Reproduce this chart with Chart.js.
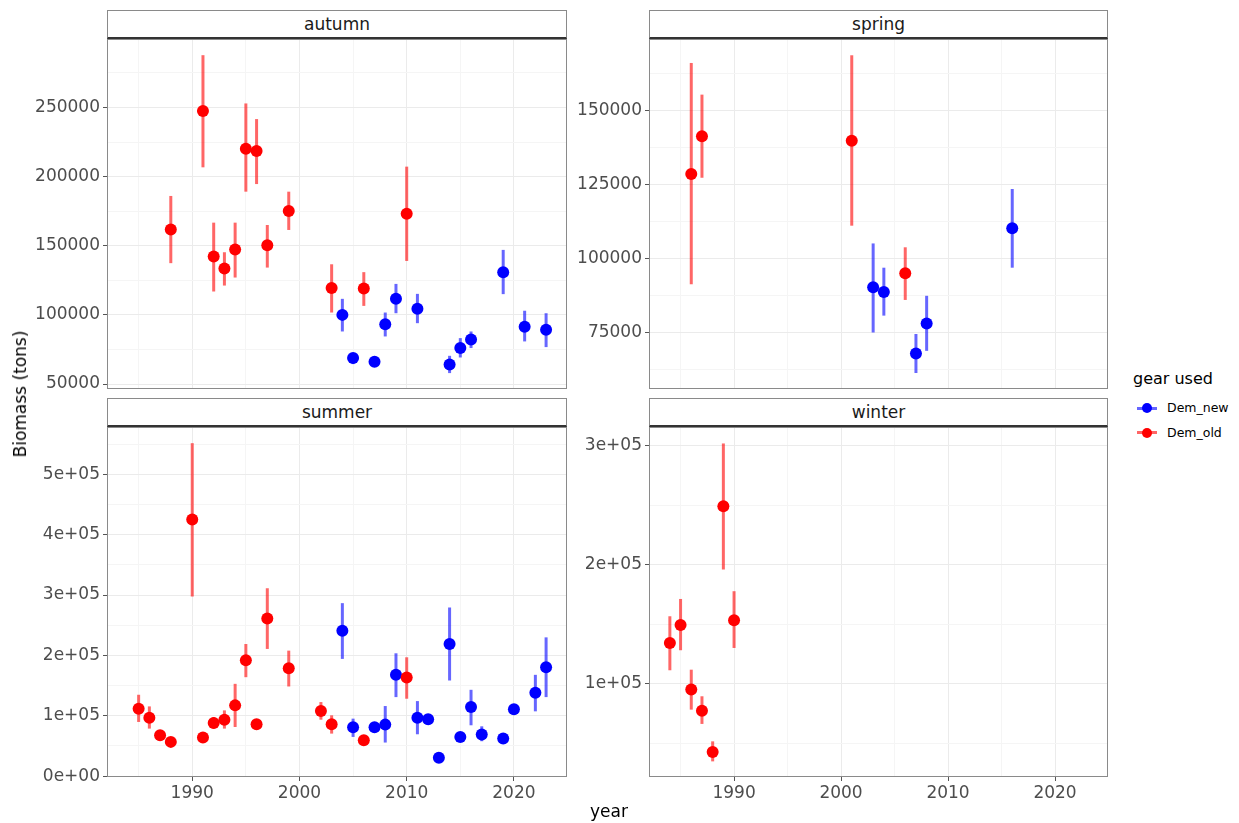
<!DOCTYPE html>
<html>
<head>
<meta charset="utf-8">
<script src="https://cdn.jsdelivr.net/npm/chart.js@4.4.0/dist/chart.umd.min.js"></script>
<style>
  body { margin: 0; background: #fff; width: 1239px; height: 823px; position: relative; overflow: hidden; font-family: "DejaVu Sans", sans-serif; }
  canvas { position: absolute; }
  .strip { position: absolute; box-sizing: border-box; border: 1px solid #8a8a8a; border-bottom: 2px solid #333; background: #fff; text-align: center; font-size: 17px; color: #1a1a1a; line-height: 27px; }
  .frame { position: absolute; box-sizing: border-box; border: 1px solid #8a8a8a; pointer-events: none; }
  .txt { position: absolute; white-space: nowrap; }
</style>
</head>
<body>
<script>
// ---- data ----
const xTicks = [1990, 2000, 2010, 2020];
const xLabels = ['1990', '2000', '2010', '2020'];

const autumnYears   = [1988, 1991, 1992, 1993, 1994, 1995, 1996, 1997, 1999, 2003, 2004, 2005, 2006, 2007, 2008, 2009, 2010, 2011, 2014, 2015, 2016, 2019, 2021, 2023];
const autumnGear    = ['old','old','old','old','old','old','old','old','old','old','new','new','old','new','new','new','old','new','new','new','new','new','new','new'];
const autumnBiomass = [161700, 247400, 142200, 133500, 147200, 220200, 218500, 150400, 175100, 119500, 100000, 68800, 119100, 66100, 93300, 111600, 173200, 104400, 64200, 76000, 82200, 130900, 91400, 89200];
const autumnLow     = [137400, 206700, 116900, 121200, 127000, 189100, 194600, 134200, 161400, 101700, 88000, 64400, 106500, 62700, 84400, 101200, 139000, 94000, 57900, 69200, 76000, 115000, 80800, 76700];
const autumnHigh    = [186000, 287800, 166700, 145300, 166700, 252900, 241600, 165000, 189100, 136600, 111600, 72400, 130900, 68800, 101700, 122400, 207200, 115200, 70400, 83200, 88000, 147000, 103000, 101200];
const autumnTicks   = [50000, 100000, 150000, 200000, 250000];
const autumnLabels  = ['50000', '100000', '150000', '200000', '250000'];

const springYears   = [1986, 1987, 2001, 2003, 2004, 2006, 2007, 2008, 2016];
const springGear    = ['old','old','old','new','new','old','new','new','new'];
const springBiomass = [128500, 141200, 139700, 90200, 88600, 94900, 67800, 77900, 110100];
const springLow     = [91200, 127200, 111000, 74900, 80600, 85900, 61200, 68700, 96800];
const springHigh    = [166000, 155300, 168600, 105000, 96800, 103700, 74400, 87300, 123400];
const springTicks   = [75000, 100000, 125000, 150000];
const springLabels  = ['75000', '100000', '125000', '150000'];

const summerYears   = [1985, 1986, 1987, 1988, 1990, 1991, 1992, 1993, 1994, 1995, 1996, 1997, 1999, 2002, 2003, 2004, 2005, 2006, 2007, 2008, 2009, 2010, 2011, 2012, 2013, 2014, 2015, 2016, 2017, 2019, 2020, 2022, 2023];
const summerGear    = ['old','old','old','old','old','old','old','old','old','old','old','old','old','old','old','new','new','old','new','new','new','old','new','new','new','new','new','new','new','new','new','new','new'];
const summerBiomass = [111700, 96800, 67700, 56700, 425200, 63800, 88000, 93500, 117200, 192000, 85800, 261300, 178800, 107800, 85800, 240900, 80900, 59400, 80900, 85300, 167800, 163400, 96800, 94100, 30300, 218900, 64900, 114400, 68800, 62200, 110600, 138100, 180400];
const summerLow     = [89700, 78700, 61100, 51200, 297600, 59400, 78700, 78700, 81400, 163900, 81400, 210700, 148500, 93500, 70400, 194200, 64900, 55000, 73200, 55600, 130900, 128200, 69300, 89700, 24800, 158400, 59400, 84200, 57800, 56700, 103400, 107300, 130900];
const summerHigh    = [134800, 115500, 73200, 62200, 551700, 67700, 97900, 108900, 152900, 218900, 89700, 311300, 207900, 122700, 100700, 286600, 95200, 64900, 89700, 116100, 203500, 196900, 124300, 100700, 35800, 279400, 70400, 143000, 82500, 67700, 117200, 167800, 229900];
const summerTicks   = [0, 100000, 200000, 300000, 400000, 500000];
const summerLabels  = ['0e+00', '1e+05', '2e+05', '3e+05', '4e+05', '5e+05'];

const winterYears   = [1984, 1985, 1986, 1987, 1988, 1989, 1990];
const winterGear    = ['old','old','old','old','old','old','old'];
const winterBiomass = [134400, 149500, 95300, 77600, 43000, 249100, 153400];
const winterLow     = [111500, 128300, 78500, 66500, 35100, 196000, 130200];
const winterHigh    = [156800, 171300, 112000, 89700, 51900, 301700, 177800];
const winterTicks   = [100000, 200000, 300000];
const winterLabels  = ['1e+05', '2e+05', '3e+05'];

const gearNames = ['Dem_new', 'Dem_old'];
const gearColors = { new: '#0000ff', old: '#ff0000' };
const gearBarColors = { new: 'rgba(0,0,255,0.6)', old: 'rgba(255,0,0,0.6)' };

// ---- layout ----
const X_MIN = 1982.05, X_MAX = 2024.95;
const FONT = { family: 'DejaVu Sans', size: 17 };
const PAD = 15;

const panels = [
  { name: 'autumn', left: 107, top: 39, w: 460, h: 350, axisW: 107, bottom: false, yMin: 46400, yMax: 299500,
    years: autumnYears, gear: autumnGear, val: autumnBiomass, lo: autumnLow, hi: autumnHigh, ticks: autumnTicks, labels: autumnLabels },
  { name: 'spring', left: 649, top: 39, w: 459, h: 350, axisW: 80, bottom: false, yMin: 55800, yMax: 174100,
    years: springYears, gear: springGear, val: springBiomass, lo: springLow, hi: springHigh, ticks: springTicks, labels: springLabels },
  { name: 'summer', left: 107, top: 427, w: 460, h: 350, axisW: 107, bottom: true, yMin: -1500, yMax: 578500,
    years: summerYears, gear: summerGear, val: summerBiomass, lo: summerLow, hi: summerHigh, ticks: summerTicks, labels: summerLabels },
  { name: 'winter', left: 649, top: 427, w: 459, h: 350, axisW: 80, bottom: true, yMin: 22000, yMax: 315500,
    years: winterYears, gear: winterGear, val: winterBiomass, lo: winterLow, hi: winterHigh, ticks: winterTicks, labels: winterLabels }
];

// major ticks plus the minor lines halfway between them
function withMinor(major, min, max) {
  const step = major[1] - major[0];
  const out = [];
  for (let v = major[0] - step / 2; v >= min; v -= step / 2) out.unshift(v);
  major.forEach((v, i) => {
    out.push(v);
    if (i < major.length - 1) out.push(v + step / 2);
  });
  const last = major[major.length - 1];
  for (let v = last + step / 2; v <= max; v += step / 2) out.push(v);
  return out.filter(v => v >= min && v <= max);
}

function isMajor(c, list) {
  return !!(c && c.tick && list.includes(c.tick.value));
}

function el(cls, css, text) {
  const d = document.createElement('div');
  d.className = cls;
  Object.assign(d.style, css);
  if (text) d.textContent = text;
  document.body.appendChild(d);
  return d;
}

function makePanel(p) {
  const xAxisH = p.bottom ? 30 : 0;
  const cv = document.createElement('canvas');
  cv.width = p.axisW + p.w + PAD;
  cv.height = PAD + p.h + xAxisH + PAD;
  cv.style.left = (p.left - p.axisW) + 'px';
  cv.style.top = (p.top - PAD) + 'px';
  document.body.appendChild(cv);

  const xGrid = withMinor(xTicks, X_MIN, X_MAX);
  const yGrid = withMinor(p.ticks, p.yMin, p.yMax);

  const points = p.years.map((yr, i) => ({ x: yr, y: p.val[i] }));
  const ranges = p.years.map((yr, i) => ({ x: yr, y: [p.lo[i], p.hi[i]] }));

  new Chart(cv, {
    type: 'scatter',
    data: {
      datasets: [
        { type: 'scatter', data: points, pointRadius: 6, pointHoverRadius: 6, borderWidth: 0,
          pointBorderWidth: 0, pointBackgroundColor: p.gear.map(g => gearColors[g]) },
        { type: 'bar', data: ranges, grouped: false, maxBarThickness: 3, borderWidth: 0,
          borderSkipped: false, backgroundColor: p.gear.map(g => gearBarColors[g]) }
      ]
    },
    options: {
      responsive: false,
      animation: false,
      devicePixelRatio: 1,
      layout: { padding: { top: PAD, right: PAD, bottom: PAD, left: 0 } },
      plugins: { legend: { display: false }, tooltip: { enabled: false } },
      scales: {
        x: {
          type: 'linear', min: X_MIN, max: X_MAX, bounds: 'data', offset: false,
          border: { display: false },
          afterBuildTicks: s => { s.ticks = xGrid.map(v => ({ value: v })); },
          afterFit: s => { s.height = xAxisH; },
          grid: {
            offset: false,
            color: c => isMajor(c, xTicks) ? '#ebebeb' : '#f5f5f5',
            lineWidth: 1, drawTicks: p.bottom, tickLength: 4,
            tickColor: c => isMajor(c, xTicks) ? '#555' : 'rgba(0,0,0,0)'
          },
          ticks: {
            display: p.bottom, autoSkip: false, maxRotation: 0, padding: 2, color: '#4d4d4d', font: FONT,
            callback: v => { const i = xTicks.indexOf(v); return i >= 0 ? xLabels[i] : ''; }
          }
        },
        y: {
          type: 'linear', min: p.yMin, max: p.yMax, bounds: 'data', offset: false,
          border: { display: false },
          afterBuildTicks: s => { s.ticks = yGrid.map(v => ({ value: v })); },
          afterFit: s => { s.width = p.axisW; },
          grid: {
            color: c => isMajor(c, p.ticks) ? '#ebebeb' : '#f5f5f5',
            lineWidth: 1, drawTicks: true, tickLength: 4,
            tickColor: c => isMajor(c, p.ticks) ? '#555' : 'rgba(0,0,0,0)'
          },
          ticks: {
            autoSkip: false, padding: 3, color: '#4d4d4d', font: FONT,
            callback: v => { const i = p.ticks.indexOf(v); return i >= 0 ? p.labels[i] : ''; }
          }
        }
      }
    }
  });

  el('frame', { left: p.left + 'px', top: p.top + 'px', width: p.w + 'px', height: p.h + 'px' });
  el('strip', { left: p.left + 'px', top: (p.top - 29) + 'px', width: p.w + 'px', height: '29px' }, p.name);
}

panels.forEach(makePanel);

// axis titles
el('txt', { left: '590px', top: '801px', fontSize: '17px', color: '#000' }, 'year');
el('txt', { left: '20px', top: '394px', fontSize: '17px', color: '#000', transform: 'translate(-50%,-50%) rotate(-90deg)' }, 'Biomass (tons)');

// legend
el('txt', { left: '1133px', top: '369px', fontSize: '16px', color: '#000' }, 'gear used');
['new', 'old'].forEach((g, i) => {
  const cy = 408 + i * 24.5;
  el('txt', { left: '1137px', top: (cy - 1.5) + 'px', width: '20px', height: '3px', background: gearBarColors[g] });
  el('txt', { left: '1142px', top: (cy - 5) + 'px', width: '10px', height: '10px', borderRadius: '50%', background: gearColors[g] });
  el('txt', { left: '1167px', top: (cy - 8) + 'px', fontSize: '12.5px', color: '#000', lineHeight: '16px' }, gearNames[i]);
});
</script>
</body>
</html>
